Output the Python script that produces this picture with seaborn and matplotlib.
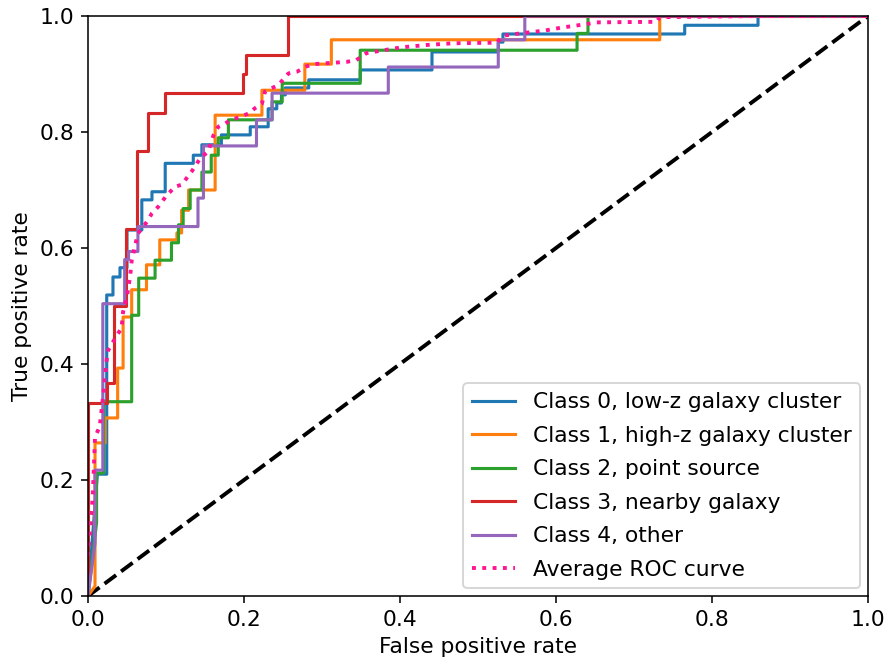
import matplotlib
matplotlib.use("Agg")
import matplotlib.pyplot as plt
import seaborn as sns
import pandas as pd

# ROC curve vertices (false positive rate, true positive rate) per class
class0_fpr = [0, 0.012, 0.024, 0.024, 0.032, 0.032, 0.041, 0.041, 0.050, 0.050, 0.069, 0.069,
              0.082, 0.082, 0.099, 0.099, 0.135, 0.135, 0.146, 0.146, 0.171, 0.171, 0.208, 0.208,
              0.231, 0.231, 0.242, 0.242, 0.248, 0.248, 0.253, 0.253, 0.283, 0.283, 0.349, 0.349,
              0.441, 0.441, 0.526, 0.526, 0.532, 0.532, 0.765, 0.765, 0.859, 0.859, 1.0]
class0_tpr = [0, 0.21, 0.21, 0.519, 0.519, 0.550, 0.550, 0.566, 0.566, 0.631, 0.631, 0.683,
              0.683, 0.697, 0.697, 0.746, 0.746, 0.760, 0.760, 0.778, 0.778, 0.795, 0.795, 0.809,
              0.809, 0.840, 0.840, 0.850, 0.850, 0.864, 0.864, 0.876, 0.876, 0.890, 0.890, 0.907,
              0.907, 0.938, 0.938, 0.955, 0.955, 0.969, 0.969, 0.984, 0.984, 1.0, 1.0]

class1_fpr = [0, 0.009, 0.009, 0.022, 0.022, 0.038, 0.038, 0.045, 0.045, 0.056, 0.056, 0.075,
              0.075, 0.092, 0.092, 0.114, 0.114, 0.120, 0.120, 0.129, 0.129, 0.163, 0.163, 0.223,
              0.223, 0.278, 0.278, 0.312, 0.312, 0.733, 0.733, 1.0]
class1_tpr = [0, 0.017, 0.264, 0.264, 0.307, 0.307, 0.393, 0.393, 0.481, 0.481, 0.528, 0.528,
              0.571, 0.571, 0.614, 0.614, 0.626, 0.626, 0.665, 0.665, 0.700, 0.700, 0.829, 0.829,
              0.872, 0.872, 0.917, 0.917, 0.959, 0.959, 1.0, 1.0]

class2_fpr = [0, 0.011, 0.011, 0.020, 0.020, 0.056, 0.056, 0.065, 0.065, 0.086, 0.086, 0.107,
              0.107, 0.116, 0.116, 0.122, 0.122, 0.131, 0.131, 0.146, 0.146, 0.158, 0.158, 0.167,
              0.167, 0.180, 0.180, 0.236, 0.236, 0.249, 0.249, 0.349, 0.349, 0.627, 0.627, 0.641,
              0.641, 1.0]
class2_tpr = [0, 0.126, 0.212, 0.212, 0.335, 0.335, 0.484, 0.484, 0.548, 0.548, 0.579, 0.579,
              0.609, 0.609, 0.640, 0.640, 0.668, 0.668, 0.700, 0.700, 0.731, 0.731, 0.760, 0.760,
              0.790, 0.790, 0.821, 0.821, 0.852, 0.852, 0.884, 0.884, 0.941, 0.941, 0.970, 0.970,
              1.0, 1.0]

class3_fpr = [0, 0, 0.024, 0.024, 0.033, 0.033, 0.049, 0.049, 0.063, 0.063, 0.077, 0.077,
              0.099, 0.099, 0.199, 0.199, 0.203, 0.203, 0.256, 0.256, 1.0]
class3_tpr = [0, 0.333, 0.333, 0.367, 0.367, 0.500, 0.500, 0.633, 0.633, 0.767, 0.767, 0.833,
              0.833, 0.867, 0.867, 0.900, 0.900, 0.933, 0.933, 1.0, 1.0]

class4_fpr = [0, 0.009, 0.009, 0.019, 0.019, 0.047, 0.047, 0.052, 0.052, 0.064, 0.064, 0.141,
              0.141, 0.148, 0.148, 0.216, 0.216, 0.236, 0.236, 0.385, 0.385, 0.526, 0.526, 0.560,
              0.560, 1.0]
class4_tpr = [0, 0.091, 0.217, 0.217, 0.504, 0.504, 0.580, 0.580, 0.594, 0.594, 0.637, 0.637,
              0.686, 0.686, 0.776, 0.776, 0.821, 0.821, 0.867, 0.867, 0.912, 0.912, 0.959, 0.959,
              1.0, 1.0]

avg_fpr = [0, 0.006, 0.009, 0.015, 0.020, 0.024, 0.026, 0.036, 0.043, 0.045, 0.050, 0.054,
           0.056, 0.060, 0.064, 0.071, 0.077, 0.082, 0.090, 0.101, 0.112, 0.120, 0.133, 0.144,
           0.154, 0.161, 0.167, 0.176, 0.184, 0.195, 0.206, 0.214, 0.223, 0.227, 0.244, 0.257,
           0.268, 0.280, 0.289, 0.310, 0.332, 0.344, 0.357, 0.379, 0.402, 0.434, 0.468, 0.524,
           0.532, 0.554, 0.586, 0.607, 0.639, 0.652, 0.729, 0.733, 0.862, 1.0]
avg_tpr = [0.069, 0.169, 0.274, 0.292, 0.352, 0.407, 0.424, 0.447, 0.462, 0.490, 0.517, 0.551,
           0.578, 0.602, 0.625, 0.637, 0.648, 0.660, 0.671, 0.691, 0.706, 0.709, 0.732, 0.755,
           0.766, 0.795, 0.809, 0.815, 0.821, 0.826, 0.832, 0.841, 0.849, 0.870, 0.881, 0.901,
           0.904, 0.913, 0.917, 0.919, 0.921, 0.924, 0.936, 0.941, 0.946, 0.950, 0.953, 0.954,
           0.966, 0.970, 0.975, 0.980, 0.986, 0.989, 0.990, 0.998, 1.0, 1.0]

class_labels = ["Class 0, low-z galaxy cluster", "Class 1, high-z galaxy cluster",
                "Class 2, point source", "Class 3, nearby galaxy", "Class 4, other"]
class_colors = ["#1f77b4", "#ff7f0e", "#2ca02c", "#d62728", "#9467bd"]

curves = [(class0_fpr, class0_tpr), (class1_fpr, class1_tpr), (class2_fpr, class2_tpr),
          (class3_fpr, class3_tpr), (class4_fpr, class4_tpr)]

plt.rcParams["font.size"] = 11.2

W, H, DPI = 893, 666, 140
fig = plt.figure(figsize=(W / DPI, H / DPI), dpi=DPI)
ax = fig.add_axes([88 / W, 70 / H, 780 / W, 580 / H])

# chance line
ax.plot([0, 1], [0, 1], color="black", linestyle="--", linewidth=2)

for (fpr, tpr), label, color in zip(curves, class_labels, class_colors):
    df = pd.DataFrame({"fpr": fpr, "tpr": tpr})
    sns.lineplot(data=df, x="fpr", y="tpr", sort=False, estimator=None,
                 color=color, linewidth=1.6, label=label, ax=ax)

avg_df = pd.DataFrame({"fpr": avg_fpr, "tpr": avg_tpr})
sns.lineplot(data=avg_df, x="fpr", y="tpr", sort=False, estimator=None,
             color="deeppink", linestyle=":", linewidth=2, label="Average ROC curve", ax=ax)

ax.set_xlim(0, 1)
ax.set_ylim(0, 1)
ax.set_xlabel("False positive rate")
ax.set_ylabel("True positive rate")
ax.legend(loc="lower right", labelspacing=0.62, borderaxespad=0.35)

fig.savefig("out.png", dpi=DPI)
